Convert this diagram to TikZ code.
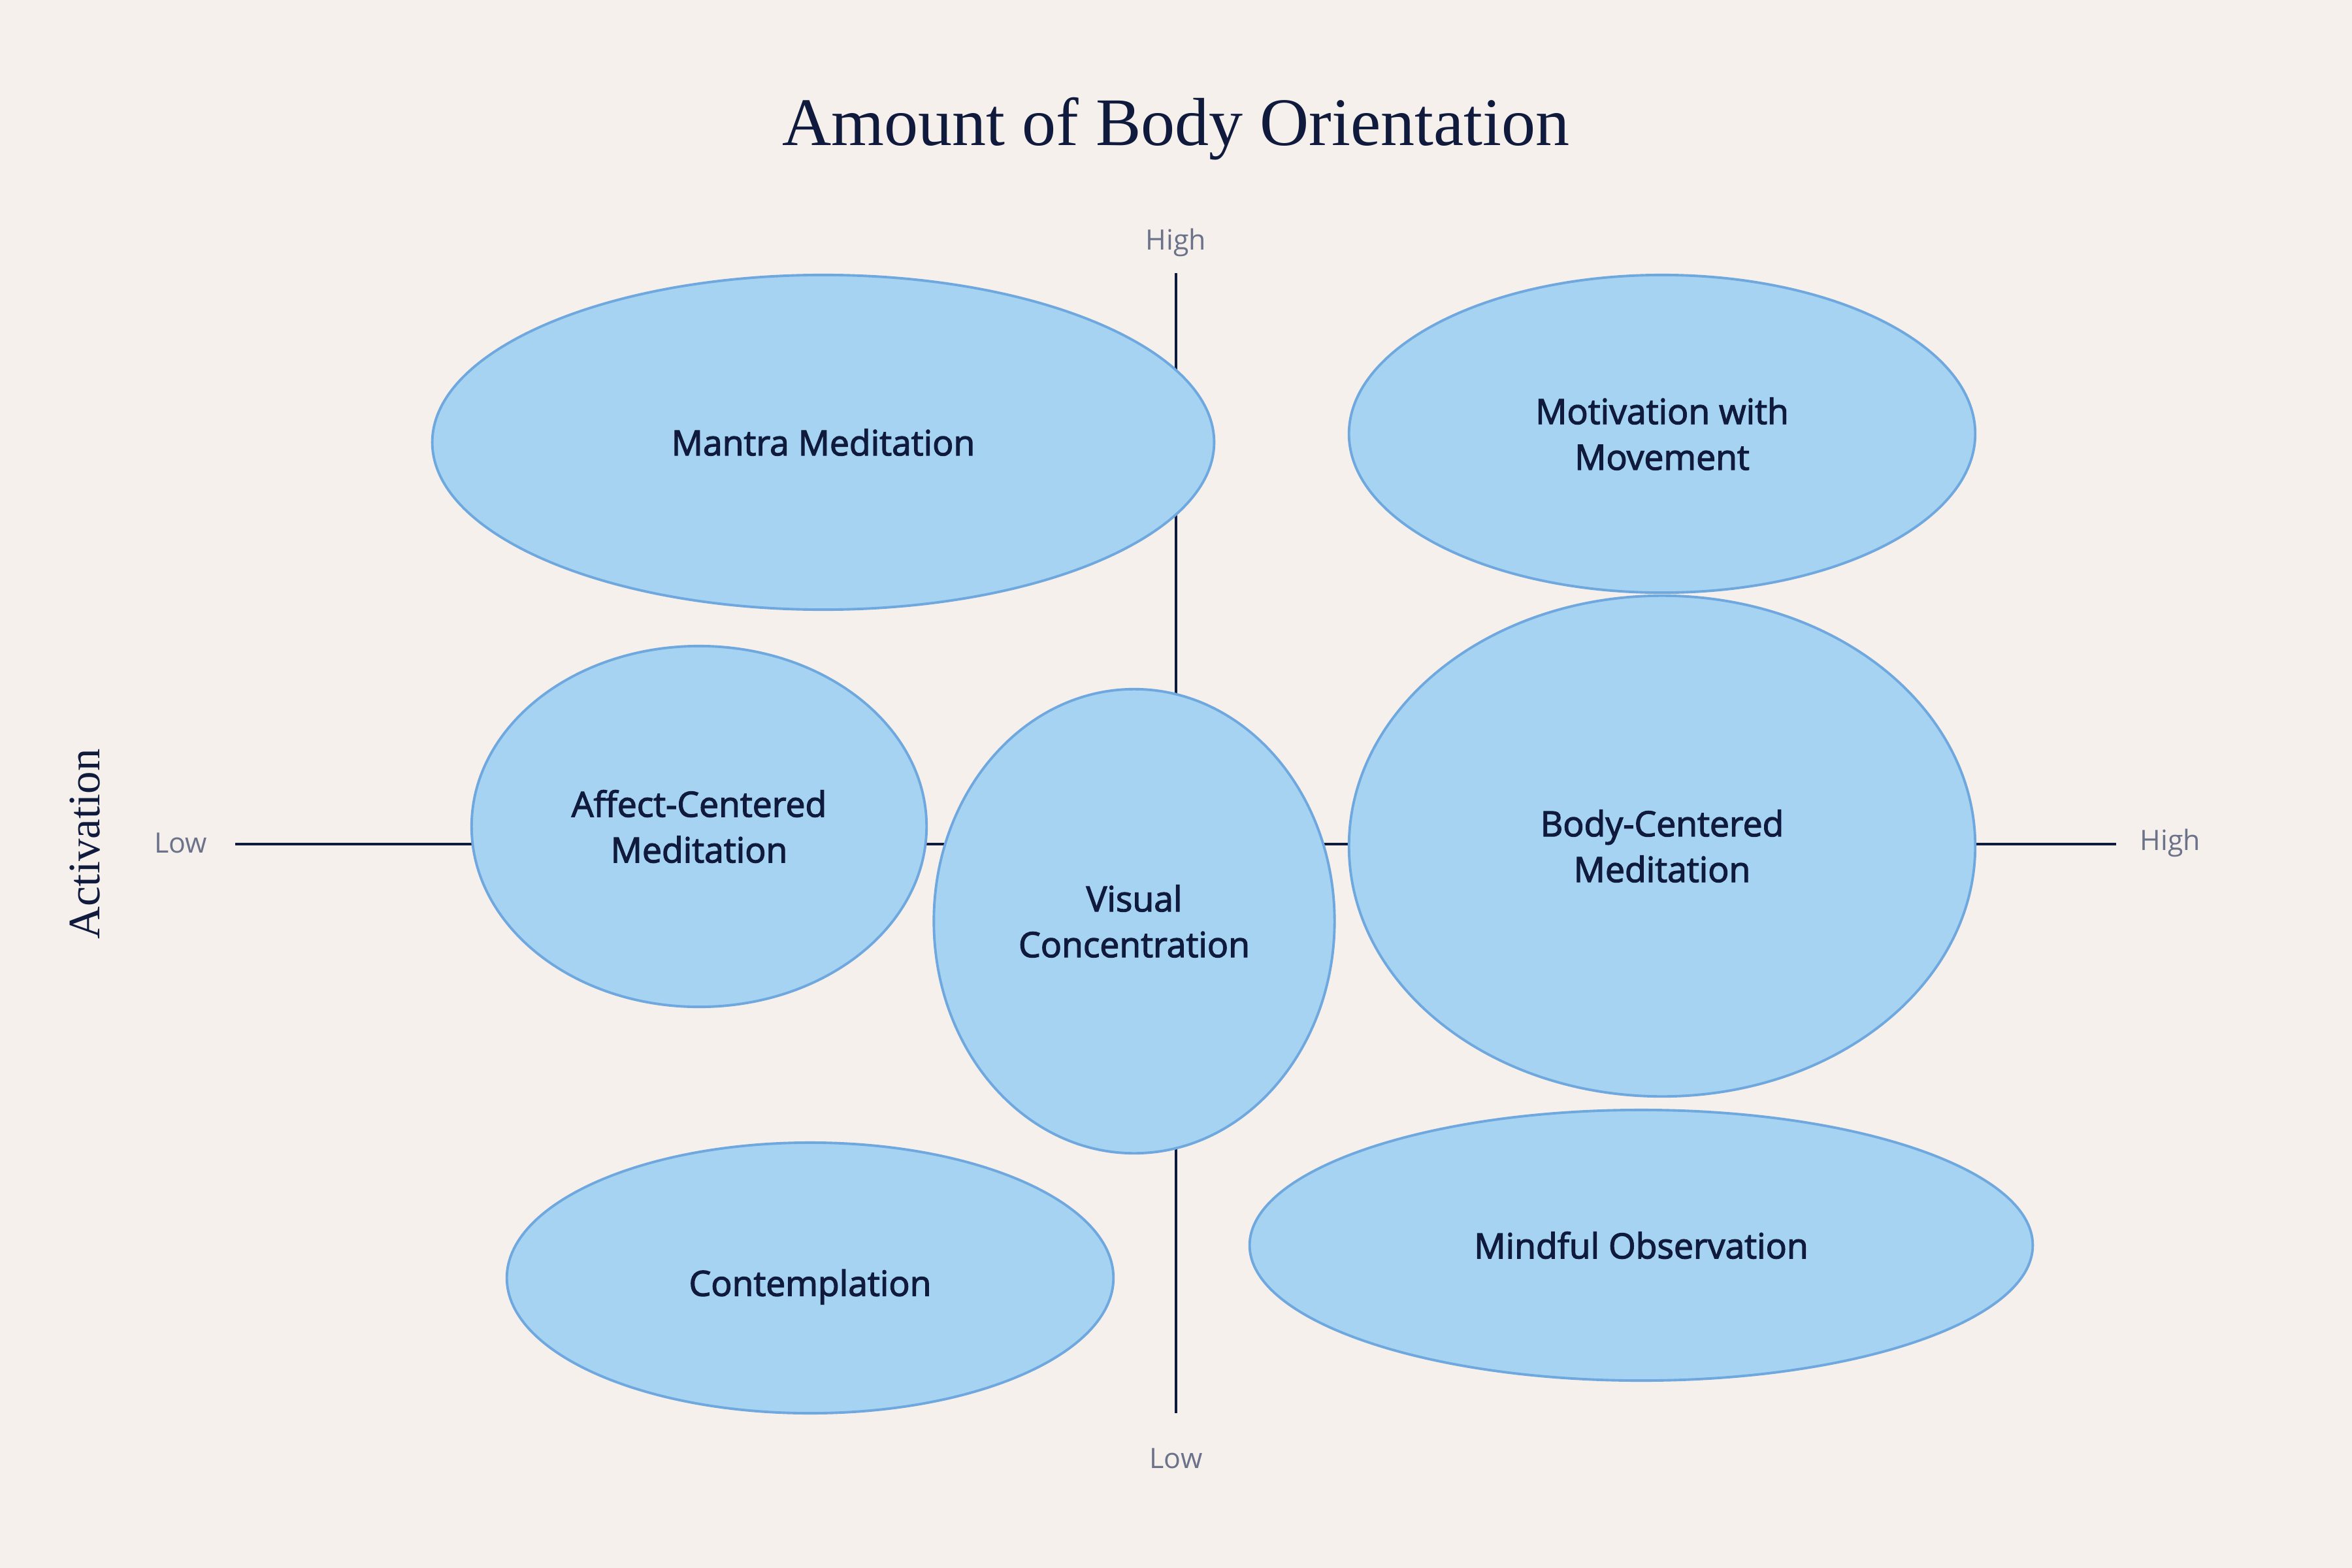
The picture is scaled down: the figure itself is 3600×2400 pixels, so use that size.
\documentclass[tikz,border=0pt]{standalone}
\usepackage{fontspec}
\setmainfont{Liberation Serif}
\newfontfamily\labelfont[FakeBold=2.4]{Open Sans}
\newfontfamily\axisfont{Open Sans}
\usetikzlibrary{shapes.geometric}
\definecolor{paper}{RGB}{245,240,236}
\definecolor{ink}{RGB}{15,26,61}
\definecolor{bubble}{RGB}{165,211,241}
\definecolor{rim}{RGB}{111,168,222}
\definecolor{tick}{RGB}{107,114,137}
\begin{document}
\begin{tikzpicture}[x=0.01cm,y=-0.01cm]
		\tikzstyle{blob}=[ellipse,draw=rim,fill=bubble,line width=1.1pt,inner sep=0pt,
			text=ink,align=center,font=\labelfont\fontsize{15.2}{19.9}\selectfont]
		\tikzstyle{axis}=[ink,line width=1.15pt]
		\tikzstyle{end}=[text=tick,font=\axisfont\fontsize{12.2}{14}\selectfont]
		\useasboundingbox [fill=paper] (0,0) rectangle (3600,2400);
		\node (title) at (1800,197) [text=ink,font=\fontsize{29.6}{34}\selectfont] {Amount of Body Orientation};
		\node (act) at (130,1292) [rotate=90,text=ink,font=\fontsize{19.6}{22}\selectfont] {Activation};
		\node [end] (hightop) at (1800,371) {High};
		\node [end] (lowbot) at (1800,2232) {Low};
		\node [end] (lowleft) at (277,1290) {Low};
		\node [end] (highright) at (3322,1290) {High};
		\coordinate (n) at (1800,418);
		\coordinate (s) at (1800,2163);
		\coordinate (w) at (360,1292);
		\coordinate (e) at (3239,1292);
		\draw [axis] (n) -- (s);
		\draw [axis] (w) -- (e);
		\node [blob,minimum width=11.96cm,minimum height=5.12cm] (mantra) at (1260,677) {Mantra Meditation};
		\node [blob,minimum width=9.58cm,minimum height=4.86cm] (motion) at (2544,664) {Motivation with\\Movement};
		\node [blob,minimum width=6.96cm,minimum height=5.52cm] (affect) at (1070,1265) {Affect-Centered\\Meditation};
		\node [blob,minimum width=6.13cm,minimum height=7.10cm] (visual) at (1736,1410) {Visual\\Concentration};
		\node [blob,minimum width=9.58cm,minimum height=7.66cm] (body) at (2544,1295) {Body-Centered\\Meditation};
		\node [blob,minimum width=9.28cm,minimum height=4.14cm,text height=19.3pt] (contemp) at (1240,1956) {Contemplation};
		\node [blob,minimum width=11.98cm,minimum height=4.14cm] (mindful) at (2512,1906) {Mindful Observation};
\end{tikzpicture}
\end{document}
